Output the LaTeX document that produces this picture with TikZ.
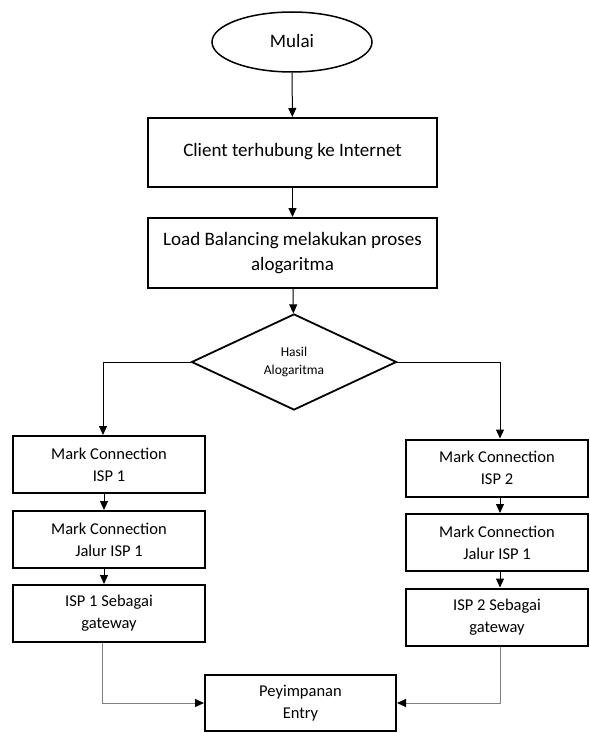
\documentclass[tikz,border=0pt]{standalone}
\usepackage{fontspec}
\setmainfont{Carlito}
\usetikzlibrary{arrows.meta}
\usetikzlibrary{shapes.geometric}

\begin{document}
\begin{tikzpicture}[x=1pt, y=-1pt, ->, >={Triangle[length=9pt, width=8pt]}, line width=1pt,
    start/.style = {draw, ellipse, line width=1.5pt, minimum width=160pt, minimum height=60pt, font=\fontsize{19}{25}\selectfont},
    main/.style = {draw, rectangle, line width=2pt, minimum width=289pt, align=center, font=\fontsize{19}{25}\selectfont},
    decision/.style = {draw, diamond, line width=1.8pt, minimum width=205pt, minimum height=96pt, inner sep=0pt, align=center, font=\fontsize{13.5}{18}\selectfont},
    sub/.style = {draw, rectangle, line width=2pt, minimum height=57pt, align=center, font=\fontsize{16.5}{22}\selectfont}]
    \useasboundingbox (0,0) rectangle (589,733);
    % Nodes

    \node[start] (mulai) at (292, 42) {\raisebox{3pt}{Mulai}};
    \node[main, minimum height=69pt] (client) at (292.5, 152.5) {\raisebox{6pt}{Client terhubung ke Internet}};
    \node[main, minimum height=70pt] (lb) at (292.5, 253) {Load Balancing melakukan proses\\alogaritma};
    \node[decision] (hasil) at (294, 362) {Hasil\\Alogaritma};

    \node[sub, minimum width=192pt] (l1) at (109, 464.5) {Mark Connection\\ISP 1};
    \node[sub, minimum width=192pt] (l2) at (109, 539.5) {Mark Connection\\Jalur ISP 1};
    \node[sub, minimum width=192pt] (l3) at (109, 613.5) {ISP 1 Sebagai\\gateway};

    \node[sub, minimum width=182pt] (r1) at (497, 468) {Mark Connection\\ISP 2};
    \node[sub, minimum width=182pt] (r2) at (497, 542.5) {Mark Connection\\Jalur ISP 1};
    \node[sub, minimum width=182pt] (r3) at (497, 617) {ISP 2 Sebagai\\gateway};

    \node[sub, minimum width=191pt, minimum height=56pt] (simpan) at (300.5, 703) {Peyimpanan\\Entry};

    % Edges

    \draw (mulai) -- (client);
    \draw (client) -- (lb);
    \draw (lb) -- (hasil);
    \draw (hasil.west) -| ([xshift=-6pt]l1.north);
    \draw (hasil.east) -| ([xshift=3pt]r1.north);
    \draw ([xshift=-5pt]l1.south) -- ([xshift=-5pt]l2.north);
    \draw ([xshift=-5pt]l2.south) -- ([xshift=-5pt]l3.north);
    \draw ([xshift=3pt]r1.south) -- ([xshift=3pt]r2.north);
    \draw ([xshift=3pt]r2.south) -- ([xshift=3pt]r3.north);
    \draw[gray, >={Triangle[length=9pt, width=8pt, color=black]}] ([xshift=-7pt]l3.south) |- (simpan.west);
    \draw[gray, >={Triangle[length=9pt, width=8pt, color=black]}] ([xshift=3pt]r3.south) |- (simpan.east);

\end{tikzpicture}
\end{document}
